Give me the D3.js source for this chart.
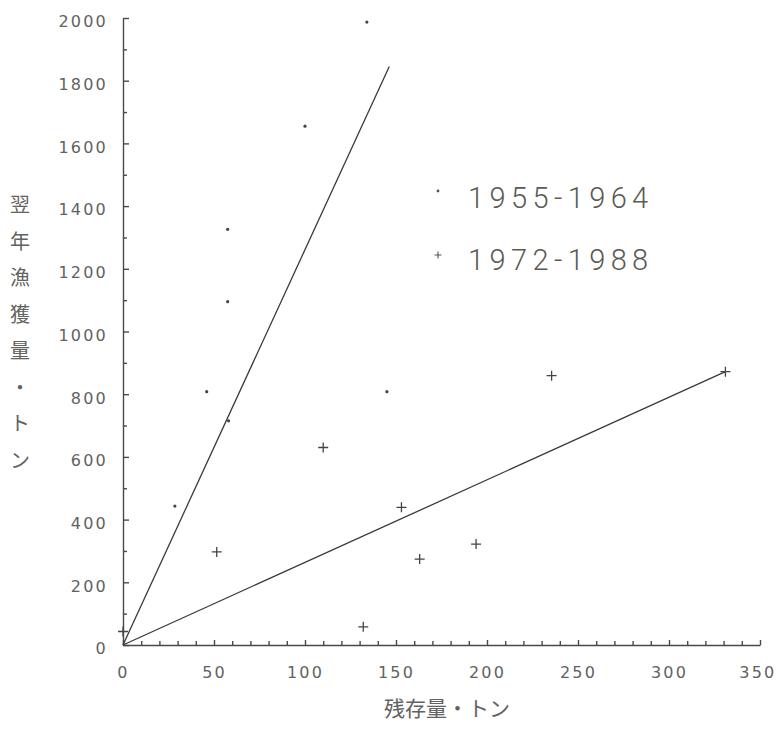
<!DOCTYPE html>
<html>
<head>
<meta charset="utf-8">
<script src="https://cdn.jsdelivr.net/npm/d3@7"></script>
<style>
  html, body { margin: 0; padding: 0; background: #ffffff; }
  svg { display: block; }
</style>
</head>
<body>
<svg id="chart" width="778" height="729"></svg>
<script>
// Remaining stock (t) vs. next-year catch (t)
const series1955 = [
  { x: 134, y: 1987 },
  { x: 100, y: 1655 },
  { x: 57.5, y: 1326 },
  { x: 57.5, y: 1095 },
  { x: 46, y: 808 },
  { x: 145, y: 808 },
  { x: 28.5, y: 443 },
  { x: 58, y: 715 }
];
const series1972 = [
  { x: 0, y: 43 },
  { x: 51.5, y: 297 },
  { x: 110, y: 630 },
  { x: 132, y: 58 },
  { x: 153, y: 439 },
  { x: 163, y: 274 },
  { x: 194, y: 322 },
  { x: 235.5, y: 859 },
  { x: 331, y: 872 }
];
// Proportional lines through the origin for each period
const line1955 = [{ x: 0, y: 0 }, { x: 146.3, y: 1845 }];
const line1972 = [{ x: 0, y: 0 }, { x: 331, y: 872 }];

const xTicks = [0, 50, 100, 150, 200, 250, 300, 350];
const yTicks = [0, 200, 400, 600, 800, 1000, 1200, 1400, 1600, 1800, 2000];
const legendLabels = ["1955-1964", "1972-1988"];
const yTitleChars = ["翌", "年", "漁", "獲", "量", "・", "ト", "ン"];
const xTitle = "残存量・トン";

const svg = d3.select("#chart");
const x = d3.scaleLinear().domain([0, 350]).range([123, 760]);
const y = d3.scaleLinear().domain([0, 2000]).range([645, 18]);

const axisColor = "#4a4a44";
const textColor = "#626260";
const numFont = "'DejaVu Sans', sans-serif";

// Y axis: major ticks every 200, minor every 100, pointing into the plot
const yAxis = svg.append("g").attr("transform", `translate(${x(0)},0)`)
  .call(d3.axisLeft(y).tickValues(yTicks).tickSizeInner(-6).tickSizeOuter(0).tickPadding(15)
    .tickFormat(d3.format("d")));
svg.append("g").attr("transform", `translate(${x(0)},0)`)
  .call(d3.axisLeft(y).tickValues(d3.range(100, 2000, 200)).tickSizeInner(-4).tickSizeOuter(0)
    .tickFormat(""))
  .call(g => g.select(".domain").remove());

// X axis: ticks every 10 pointing up into the plot
const xAxis = svg.append("g").attr("transform", `translate(0,${y(0)})`)
  .call(d3.axisBottom(x).tickValues(xTicks).tickSizeInner(-5).tickSizeOuter(0).tickPadding(22)
    .tickFormat(d3.format("d")));
svg.append("g").attr("transform", `translate(0,${y(0)})`)
  .call(d3.axisBottom(x).tickValues(d3.range(10, 350, 10).filter(v => v % 50 !== 0)).tickSizeInner(-4)
    .tickSizeOuter(0).tickFormat(""))
  .call(g => g.select(".domain").remove());

svg.selectAll(".domain, .tick line").attr("stroke", axisColor).attr("stroke-width", 1.4);
svg.selectAll(".tick text")
  .attr("fill", textColor)
  .attr("font-family", numFont)
  .attr("font-size", 16)
  .attr("letter-spacing", 2.2);
yAxis.selectAll(".tick text").attr("dy", "0.55em");
// keep the last x label inside the right edge
xAxis.selectAll(".tick text").filter(d => d === 350).attr("text-anchor", "end").attr("dx", 16);

// Fitted lines
const lineGen = d3.line().x(d => x(d.x)).y(d => y(d.y));
[line1955, line1972].forEach(l => {
  svg.append("path").datum(l).attr("d", lineGen)
    .attr("fill", "none").attr("stroke", "#3a3a36").attr("stroke-width", 1.3);
});

// 1955-1964: small dots
svg.append("g").selectAll("circle").data(series1955).join("circle")
  .attr("cx", d => x(d.x)).attr("cy", d => y(d.y)).attr("r", 1.6)
  .attr("fill", "#444");

// 1972-1988: plus marks
const plus = "M-5,0H5M0,-5V5";
svg.append("g").selectAll("path").data(series1972).join("path")
  .attr("transform", d => `translate(${x(d.x)},${y(d.y)})`)
  .attr("d", plus).attr("stroke", "#444").attr("stroke-width", 1.3).attr("fill", "none");

// Legend
const legend = svg.append("g");
legend.append("circle").attr("cx", 438).attr("cy", 191).attr("r", 1.4).attr("fill", "#555");
legend.append("path").attr("transform", "translate(438,255)").attr("d", "M-3.5,0H3.5M0,-3.5V3.5")
  .attr("stroke", "#555").attr("stroke-width", 1.1);
legend.selectAll("text").data(legendLabels).join("text")
  .attr("x", 468).attr("y", (d, i) => 208 + i * 62)
  .attr("font-family", "Roboto, sans-serif").attr("font-weight", 300)
  .attr("font-size", 29).attr("letter-spacing", 5.4)
  .attr("fill", "#5a5a56")
  .text(d => d);

// Axis titles
svg.append("g").selectAll("text").data(yTitleChars).join("text")
  .attr("x", 20).attr("y", (d, i) => 212 + i * 36.5)
  .attr("text-anchor", "middle")
  .attr("font-family", "'Noto Sans CJK JP', sans-serif").attr("font-size", 20)
  .attr("fill", textColor)
  .text(d => d);
svg.append("text").attr("x", 384).attr("y", 716)
  .attr("font-family", "'Noto Sans CJK JP', sans-serif").attr("font-size", 21)
  .attr("fill", textColor)
  .text(xTitle);
</script>
</body>
</html>
